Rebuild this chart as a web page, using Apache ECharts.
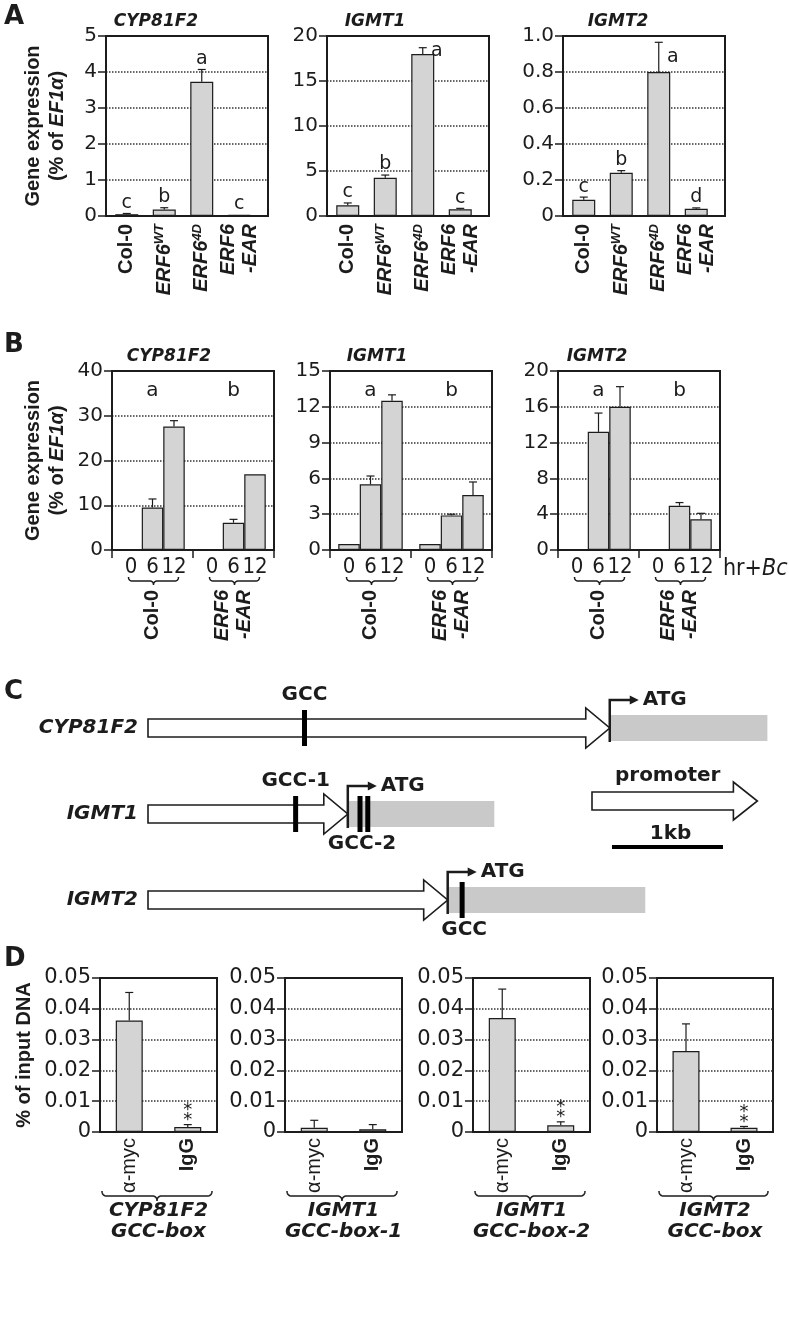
<!DOCTYPE html>
<html>
<head>
<meta charset="utf-8">
<title>ERF6 targets</title>
<script src="https://cdn.jsdelivr.net/npm/echarts@6/dist/echarts.min.js"></script>
<style>
html,body{margin:0;padding:0;background:#fff;}
#chart{width:789px;height:1330px;}
</style>
</head>
<body>
<div id="chart"></div>
<script>
// ================= DATA =================
// Panel A
const aLines = ['Col-0', 'ERF6^WT', 'ERF6^4D', 'ERF6\n-EAR'];
const aGenes = ['CYP81F2', 'IGMT1', 'IGMT2'];
const aCypMean = [0.05, 0.18, 3.73, 0.03];
const aCypErr = [0.02, 0.05, 0.34, 0.01];
const aCypLetters = ['c', 'b', 'a', 'c'];
const aIgmt1Mean = [1.2, 4.25, 18.0, 0.75];
const aIgmt1Err = [0.25, 0.3, 0.7, 0.1];
const aIgmt1Letters = ['c', 'b', 'a', 'c'];
const aIgmt2Mean = [0.09, 0.24, 0.80, 0.04];
const aIgmt2Err = [0.015, 0.012, 0.165, 0.005];
const aIgmt2Letters = ['c', 'b', 'a', 'd'];
const aYMax = [5, 20, 1.0];
const aYStep = [1, 5, 0.2];

// Panel B
const bHours = ['0', '6', '12'];
const bLines = ['Col-0', 'ERF6\n-EAR'];
const bGenes = ['CYP81F2', 'IGMT1', 'IGMT2'];
const bCypCol = [0, 9.5, 27.6];
const bCypColErr = [0, 1.9, 1.3];
const bCypEar = [0, 6.1, 16.9];
const bCypEarErr = [0, 0.75, 0];
const bIgmt1Col = [0.5, 5.5, 12.5];
const bIgmt1ColErr = [0.03, 0.7, 0.5];
const bIgmt1Ear = [0.5, 2.9, 4.6];
const bIgmt1EarErr = [0.03, 0.1, 1.1];
const bIgmt2Col = [0.1, 13.2, 16.0];
const bIgmt2ColErr = [0, 2.1, 2.25];
const bIgmt2Ear = [0, 4.95, 3.43];
const bIgmt2EarErr = [0, 0.35, 0.67];
const bLetters = ['a', 'b'];
const bYMax = [40, 15, 20];
const bYStep = [10, 3, 4];

// Panel C (kb from the 5' end of each drawn promoter)
const cGenes = ['CYP81F2', 'IGMT1', 'IGMT2'];
const cPromoterKb = [4.16, 1.80, 2.70];
const cGeneBodyKb = [1.42, 1.32, 1.78];
const cGccRow = [0, 1, 1, 1, 2];
const cGccKb = [1.41, 1.33, 1.91, 1.98, 2.83];
const cGccLabel = ['GCC', 'GCC-1', 'GCC-2', '', 'GCC'];
const cScaleKb = 1;

// Panel D
const dTargets = ['CYP81F2\nGCC-box', 'IGMT1\nGCC-box-1', 'IGMT1\nGCC-box-2', 'IGMT2\nGCC-box'];
const dAntibodies = ['α-myc', 'IgG'];
const dCypMean = [0.0362, 0.0016];
const dCypErr = [0.0091, 0.0008];
const dIgmt1aMean = [0.0014, 0.0009];
const dIgmt1aErr = [0.0024, 0.0015];
const dIgmt1bMean = [0.037, 0.0022];
const dIgmt1bErr = [0.0094, 0.0011];
const dIgmt2Mean = [0.0263, 0.0014];
const dIgmt2Err = [0.0088, 0.0004];
const dSig = [['', '**'], ['', ''], ['', '**'], ['', '**']];
const dYMax = 0.05;
const dYStep = 0.01;

// ================= STYLE / LAYOUT =================
const INK = '#1c1c1c';
const BAR_FILL = '#d4d4d4';
const F_WIDE = '"DejaVu Sans", Verdana, sans-serif';
const F_ARIAL = '"Liberation Sans", Arial, Helvetica, sans-serif';
const F_NARROW = '"Liberation Sans Narrow", "Arial Narrow", "DejaVu Sans Condensed", sans-serif';

const aBox = [[106, 162], [327, 162], [563, 162]];
const aTop = 36, aH = 180;
const bBox = [[112, 162], [330, 162], [558, 162]];
const bTop = 371, bH = 179;
const dBox = [[100, 117], [285, 117], [473, 117], [657, 116]];
const dTop = 978, dH = 154;

const grids = [], xAxes = [], yAxes = [], series = [];
function addGrid(g) {
  grids.push(Object.assign({show: false, containLabel: false, outerBoundsMode: 'none'}, g));
  return grids.length - 1;
}
function txt(s, x, y, align, valign, size, extra) {
  return {type: 'text', style: Object.assign({
    text: s, x: x, y: y, align: align, verticalAlign: valign,
    textAlign: align, textVerticalAlign: valign,
    fontFamily: F_WIDE, fontSize: size, fill: INK}, extra || {})};
}

const yNameExpr = '{b|Gene expression}\n{b|(% of }{bi|EF1α}{b|)}';
const nameRich = {
  b: {fontFamily: F_ARIAL, fontWeight: 'bold', fontSize: 20, color: INK, lineHeight: 24},
  bi: {fontFamily: F_ARIAL, fontWeight: 'bold', fontStyle: 'italic', fontSize: 20, color: INK, lineHeight: 24}
};

function frameYAxis(gi, max, step, fmt, name, nameGap, labelSize) {
  return {
    gridIndex: gi, type: 'value', min: 0, max: max, interval: step,
    axisLine: {show: true, lineStyle: {color: INK, width: 2}},
    axisTick: {show: true, inside: false, length: 8, lineStyle: {color: INK, width: 1.5}},
    axisLabel: {show: true, margin: 9, color: INK, fontFamily: F_WIDE, fontSize: labelSize || 20,
      formatter: fmt, showMinLabel: true, showMaxLabel: true},
    splitLine: {show: true, showMinLine: false, showMaxLine: false,
      lineStyle: {color: '#333', type: 'dotted', width: 1.5}},
    name: name || '', nameLocation: 'middle', nameGap: nameGap || 30, nameMoveOverlap: false,
    nameTextStyle: {fontFamily: F_ARIAL, fontWeight: 'bold', fontSize: 20, color: INK,
      lineHeight: 24, rich: nameRich}
  };
}

function lineLabel(v) {
  if (v.indexOf('^') >= 0) {
    const p = v.split('^');
    return '{i|' + p[0] + '}{s|' + p[1] + '}';
  }
  if (v.indexOf('ERF6') === 0) return v.split('\n').map(t => '{i|' + t + '}').join('\n');
  return '{b|' + v + '}';
}
const lineRich = {
  b: {fontFamily: F_ARIAL, fontWeight: 'bold', fontSize: 20, color: INK, lineHeight: 22},
  i: {fontFamily: F_ARIAL, fontWeight: 'bold', fontStyle: 'italic', fontSize: 20, color: INK, lineHeight: 22},
  s: {fontFamily: F_ARIAL, fontWeight: 'bold', fontStyle: 'italic', fontSize: 13, color: INK,
    lineHeight: 13, verticalAlign: 'top'}
};

function makeErrSeries(xi, yi, means, errs, marks, xOffset) {
  return {
    type: 'custom', xAxisIndex: xi, yAxisIndex: yi, silent: true, animation: false, z: 4,
    data: means.map((m, i) => [i, m, m + errs[i]]),
    renderItem: function (params, api) {
      const i = params.dataIndex;
      const base = api.coord([api.value(0), api.value(1)]);
      const capP = api.coord([api.value(0), api.value(2)]);
      const x = base[0] + (xOffset || 0);
      const yTop = base[1], yCap = capP[1];
      const kids = [];
      if (yTop - yCap > 0.5) {
        kids.push({type: 'line', shape: {x1: x, y1: yTop, x2: x, y2: yCap}, style: {stroke: INK, lineWidth: 1.2}});
        kids.push({type: 'line', shape: {x1: x - 4, y1: yCap, x2: x + 4, y2: yCap}, style: {stroke: INK, lineWidth: 1.2}});
      }
      const mark = marks ? marks[i] : '';
      if (mark === '**') {
        kids.push(txt('*', x, yCap - 14.5, 'center', 'middle', 18));
        kids.push(txt('*', x, yCap - 4.5, 'center', 'middle', 18));
      } else if (mark) {
        const gridTop = params.coordSys.y;
        if (yCap - gridTop < 22) {
          kids.push(txt(mark, x + 14, (yTop + yCap) / 2, 'center', 'middle', 19));
        } else {
          kids.push(txt(mark, x, yCap - 1, 'center', 'bottom', 19));
        }
      }
      return {type: 'group', children: kids};
    }
  };
}

// ================= PANEL A =================
const aMeans = [aCypMean, aIgmt1Mean, aIgmt2Mean];
const aErrs = [aCypErr, aIgmt1Err, aIgmt2Err];
const aLetterSets = [aCypLetters, aIgmt1Letters, aIgmt2Letters];
const aFmt = [v => String(v), v => String(v), v => (v === 0 ? '0' : v.toFixed(1))];
aGenes.forEach((gene, k) => {
  const L = aBox[k][0], Wd = aBox[k][1];
  const f = addGrid({left: L, top: aTop, width: Wd, height: aH, show: true, borderColor: INK, borderWidth: 2});
  xAxes.push({gridIndex: f, type: 'value', min: 0, max: 1, show: false});
  yAxes.push(frameYAxis(f, aYMax[k], aYStep[k], aFmt[k], k === 0 ? yNameExpr : '', 37));
  const g = addGrid({left: L + 2, top: aTop, width: 150, height: aH});
  xAxes.push({gridIndex: g, type: 'category', data: aLines,
    axisLine: {show: false}, axisTick: {show: false},
    axisLabel: {interval: 0, rotate: 90, margin: 8, color: INK, formatter: lineLabel, rich: lineRich}});
  yAxes.push({gridIndex: g, type: 'value', min: 0, max: aYMax[k], show: false});
  series.push({type: 'bar', xAxisIndex: g, yAxisIndex: g, data: aMeans[k], barWidth: 23,
    itemStyle: {color: BAR_FILL, borderColor: INK, borderWidth: 1.2}, silent: true, animation: false});
  series.push(makeErrSeries(g, g, aMeans[k], aErrs[k], aLetterSets[k], 0));
});

// ================= PANEL B =================
const bColMeans = [bCypCol, bIgmt1Col, bIgmt2Col];
const bColErrs = [bCypColErr, bIgmt1ColErr, bIgmt2ColErr];
const bEarMeans = [bCypEar, bIgmt1Ear, bIgmt2Ear];
const bEarErrs = [bCypEarErr, bIgmt1EarErr, bIgmt2EarErr];
const B_BAR = 21.5;
const bXAxisIdx = [];
bGenes.forEach((gene, k) => {
  const L = bBox[k][0], Wd = bBox[k][1];
  const gi = addGrid({left: L, top: bTop, width: Wd, height: bH, show: true, borderColor: INK, borderWidth: 2});
  const xa = {gridIndex: gi, type: 'category', data: bLines,
    axisLine: {show: true, lineStyle: {color: INK, width: 2}},
    axisTick: {show: true, inside: false, length: 8, lineStyle: {color: INK, width: 1.5}},
    axisLabel: {interval: 0, rotate: 90, margin: 40, color: INK, formatter: lineLabel, rich: lineRich}};
  if (k === 2) {
    xa.name = 'hr+{i|Bc}';
    xa.nameLocation = 'end';
    xa.nameGap = 3;
    xa.nameMoveOverlap = false;
    xa.nameTextStyle = {fontFamily: F_NARROW, fontSize: 23, color: INK, align: 'left', verticalAlign: 'top',
      padding: [8, 0, 0, 0],
      rich: {i: {fontFamily: F_NARROW, fontSize: 23, fontStyle: 'italic', color: INK}}};
  }
  bXAxisIdx.push(xAxes.length);
  xAxes.push(xa);
  yAxes.push(frameYAxis(gi, bYMax[k], bYStep[k], v => String(v), k === 0 ? yNameExpr : '', 43));
  bHours.forEach((h, j) => {
    const data = [bColMeans[k][j], bEarMeans[k][j]];
    const errs = [bColErrs[k][j], bEarErrs[k][j]];
    series.push({type: 'bar', name: h, xAxisIndex: gi, yAxisIndex: gi, data: data,
      barWidth: B_BAR, barGap: '0%',
      itemStyle: {color: BAR_FILL, borderColor: INK, borderWidth: 1.2},
      label: {show: true, position: 'bottom', distance: 6, formatter: () => h,
        fontFamily: F_NARROW, fontSize: 22, color: INK},
      silent: true, animation: false});
    series.push(makeErrSeries(gi, gi, data, errs, null, (j - 1) * B_BAR));
  });
  series.push({type: 'custom', xAxisIndex: gi, yAxisIndex: gi, silent: true, animation: false,
    data: bLetters.map((l, i) => [i, bYMax[k]]),
    renderItem: function (params, api) {
      const p = api.coord([api.value(0), api.value(1)]);
      return txt(bLetters[params.dataIndex], p[0], p[1] + 20, 'center', 'middle', 20);
    }});
});

// ================= PANEL C =================
const cGrid = addGrid({left: 148, top: 685, width: 5.6 * 111, height: 258});
const cXIdx = xAxes.length;
xAxes.push({gridIndex: cGrid, type: 'value', min: 0, max: 5.6, show: false});
const cYIdx = yAxes.length;
yAxes.push({gridIndex: cGrid, type: 'category', data: cGenes, inverse: true,
  axisLine: {show: false}, axisTick: {show: false}, splitLine: {show: false},
  axisLabel: {interval: 0, margin: 10, color: INK, fontFamily: F_WIDE, fontWeight: 'bold',
    fontStyle: 'italic', fontSize: 20}});
const cTxt = {fontWeight: 'bold'};
series.push({type: 'custom', xAxisIndex: cGrid, yAxisIndex: cGrid, silent: true, animation: false, z: 3,
  data: cGenes.map((g, i) => [cPromoterKb[i], i, cGeneBodyKb[i]]),
  renderItem: function (params, api) {
    const pk = api.value(0), row = api.value(1), gk = api.value(2);
    const p0 = api.coord([0, row]);
    const x0 = p0[0], cy = p0[1];
    const xt = api.coord([pk, row])[0];
    const xe = api.coord([pk + gk, row])[0];
    const bh = 9, hh = 20, hl = 24, xh = xt - hl;
    return {type: 'group', children: [
      {type: 'rect', shape: {x: xt + 1, y: cy - 13, width: xe - xt - 1, height: 26}, style: {fill: '#c9c9c9'}},
      {type: 'polygon', shape: {points: [[x0, cy - bh], [xh, cy - bh], [xh, cy - hh], [xt, cy],
        [xh, cy + hh], [xh, cy + bh], [x0, cy + bh]]}, style: {fill: '#fff', stroke: INK, lineWidth: 1.6}},
      {type: 'polyline', shape: {points: [[xt, cy + 14], [xt, cy - 28], [xt + 21, cy - 28]]},
        style: {stroke: INK, lineWidth: 2.5, fill: null}},
      {type: 'polygon', shape: {points: [[xt + 20, cy - 32.5], [xt + 29, cy - 28], [xt + 20, cy - 23.5]]},
        style: {fill: INK}},
      txt('ATG', xt + 33, cy - 28, 'left', 'middle', 20, cTxt)
    ]};
  }});
series.push({type: 'custom', xAxisIndex: cGrid, yAxisIndex: cGrid, silent: true, animation: false, z: 5,
  data: cGccKb.map((kb, i) => [kb, cGccRow[i]]),
  renderItem: function (params, api) {
    const i = params.dataIndex;
    const p = api.coord([api.value(0), api.value(1)]);
    const kids = [{type: 'rect', shape: {x: p[0] - 2.5, y: p[1] - 18, width: 5, height: 36}, style: {fill: '#000'}}];
    const lab = cGccLabel[i];
    if (lab) {
      const downstream = api.value(0) > cPromoterKb[api.value(1)];
      kids.push(txt(lab, p[0] + (downstream ? 2 : 0), downstream ? p[1] + 30 : p[1] - 33, 'center', 'middle', 20, cTxt));
    }
    return {type: 'group', children: kids};
  }});

// ================= PANEL D =================
const dMeans = [dCypMean, dIgmt1aMean, dIgmt1bMean, dIgmt2Mean];
const dErrs = [dCypErr, dIgmt1aErr, dIgmt1bErr, dIgmt2Err];
const dGrids = [];
dTargets.forEach((t, k) => {
  const L = dBox[k][0], Wd = dBox[k][1];
  const gi = addGrid({left: L, top: dTop, width: Wd, height: dH, show: true, borderColor: INK, borderWidth: 2});
  dGrids.push(gi);
  xAxes.push({gridIndex: gi, type: 'category', data: dAntibodies,
    axisLine: {show: true, lineStyle: {color: INK, width: 2}}, axisTick: {show: false},
    axisLabel: {interval: 0, rotate: 90, margin: 6, color: INK,
      formatter: v => (v === 'IgG' ? '{b|' + v + '}' : '{r|' + v + '}'),
      rich: {r: {fontFamily: F_ARIAL, fontSize: 20, color: INK}, b: {fontFamily: F_ARIAL, fontWeight: 'bold', fontSize: 20, color: INK}}},
    name: t, nameLocation: 'middle', nameGap: 68, nameMoveOverlap: false,
    nameTextStyle: {fontFamily: F_WIDE, fontWeight: 'bold', fontStyle: 'italic', fontSize: 20,
      lineHeight: 21, color: INK, verticalAlign: 'top'}});
  const ya = frameYAxis(gi, dYMax, dYStep, v => (v === 0 ? '0' : v.toFixed(2)), k === 0 ? '% of input DNA' : '', 64, 21);
  yAxes.push(ya);
  series.push({type: 'bar', xAxisIndex: gi, yAxisIndex: gi, data: dMeans[k], barWidth: 27,
    itemStyle: {color: BAR_FILL, borderColor: INK, borderWidth: 1.2}, silent: true, animation: false});
  series.push(makeErrSeries(gi, gi, dMeans[k], dErrs[k], dSig[k], 0));
});

// ================= CHART =================
const chart = echarts.init(document.getElementById('chart'), null, {renderer: 'canvas'});
chart.setOption({
  animation: false,
  backgroundColor: '#fff',
  textStyle: {fontFamily: F_WIDE, color: INK},
  grid: grids, xAxis: xAxes, yAxis: yAxes, series: series
});

// decorations placed through the chart's own coordinate systems
const gfx = [];
function gText(s, x, y, size, extra, align, valign) {
  gfx.push({type: 'text', silent: true, style: Object.assign({text: s, x: x, y: y,
    align: align || 'center', verticalAlign: valign || 'middle',
    textAlign: align || 'center', textVerticalAlign: valign || 'middle',
    fontFamily: F_WIDE, fontSize: size, fill: INK}, extra || {})});
}
function bracePoints(x0, x1, y, h) {
  const pts = [];
  const xc = (x0 + x1) / 2;
  const quad = (a, b, c) => {
    for (let s = 0; s <= 8; s++) {
      const t = s / 8, u = 1 - t;
      pts.push([u * u * a[0] + 2 * u * t * b[0] + t * t * c[0], u * u * a[1] + 2 * u * t * b[1] + t * t * c[1]]);
    }
  };
  quad([x0, y - h], [x0, y], [x0 + h, y]);
  quad([xc - h, y], [xc, y], [xc, y + h]);
  quad([xc, y + h], [xc, y], [xc + h, y]);
  quad([x1 - h, y], [x1, y], [x1, y - h]);
  return pts;
}
function gBrace(x0, x1, y, h) {
  gfx.push({type: 'polyline', silent: true, shape: {points: bracePoints(x0, x1, y, h)},
    style: {stroke: INK, lineWidth: 1.5, fill: null}});
}
// panel letters
gText('A', 4, 4, 26, {fontWeight: 'bold'}, 'left', 'top');
gText('B', 4, 332, 26, {fontWeight: 'bold'}, 'left', 'top');
gText('C', 4, 679, 26, {fontWeight: 'bold'}, 'left', 'top');
gText('D', 4, 946, 26, {fontWeight: 'bold'}, 'left', 'top');
// gene titles
const titleStyle = {fontWeight: 'bold', fontStyle: 'italic'};
[156, 375, 618].forEach((x, k) => gText(aGenes[k], x, 22, 17, titleStyle));
[169, 377, 597].forEach((x, k) => gText(bGenes[k], x, 357, 17, titleStyle));
// B braces under hour labels
bXAxisIdx.forEach(xi => {
  bLines.forEach((l, j) => {
    const cx = chart.convertToPixel({xAxisIndex: xi}, j);
    gBrace(cx - 24, cx + 26, bTop + bH + 31, 4);
  });
});
// D braces
dGrids.forEach((gi) => {
  const l = chart.convertToPixel({xAxisIndex: gi, yAxisIndex: gi}, [0, 0]);
  const r = chart.convertToPixel({xAxisIndex: gi, yAxisIndex: gi}, [1, 0]);
  const half = (r[0] - l[0]);
  gBrace(l[0] - half / 2 + 2, r[0] + half / 2 - 5, dTop + dH + 64, 5);
});
// C legend: promoter arrow and 1 kb scale bar
const lp = chart.convertToPixel({xAxisIndex: cXIdx, yAxisIndex: cYIdx}, [4.0, 1]);
const lt = chart.convertToPixel({xAxisIndex: cXIdx, yAxisIndex: cYIdx}, [5.49, 1]);
const s0 = chart.convertToPixel({xAxisIndex: cXIdx, yAxisIndex: cYIdx}, [4.18, 1]);
const s1 = chart.convertToPixel({xAxisIndex: cXIdx, yAxisIndex: cYIdx}, [4.18 + cScaleKb, 1]);
const ly = lp[1] - 13;
gfx.push({type: 'polygon', silent: true, shape: {points: [[lp[0], ly - 9], [lt[0] - 24, ly - 9], [lt[0] - 24, ly - 19],
  [lt[0], ly], [lt[0] - 24, ly + 19], [lt[0] - 24, ly + 9], [lp[0], ly + 9]]},
  style: {fill: '#fff', stroke: INK, lineWidth: 1.6}});
gText('promoter', (lp[0] + lt[0]) / 2 - 7, ly - 25, 20, {fontWeight: 'bold'});
gfx.push({type: 'rect', silent: true, shape: {x: s0[0], y: ly + 44, width: s1[0] - s0[0], height: 4}, style: {fill: '#000'}});
gText('1kb', (s0[0] + s1[0]) / 2 + 3, ly + 33, 20, {fontWeight: 'bold'});

chart.setOption({graphic: gfx});
</script>
</body>
</html>
